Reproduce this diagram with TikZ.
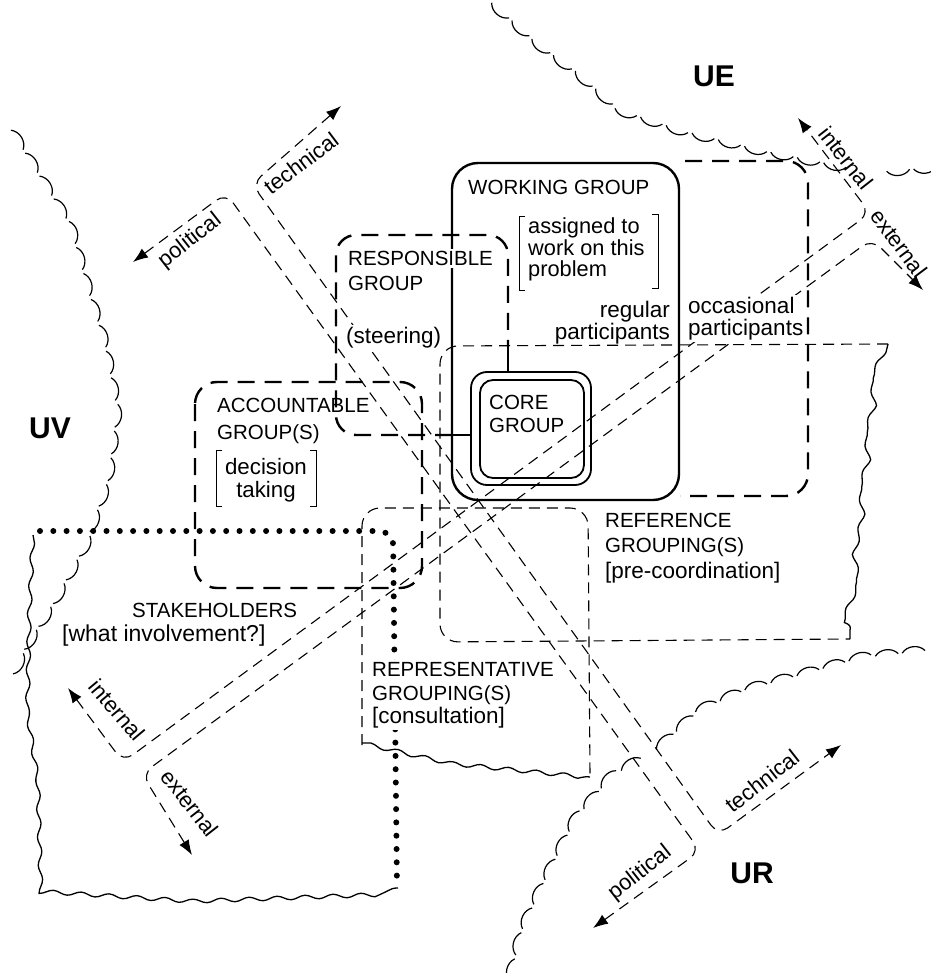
\documentclass[tikz,border=0pt]{standalone}
\usepackage{fontspec}
\setmainfont{Liberation Sans}
\usetikzlibrary{arrows.meta, decorations.pathmorphing, decorations.markings}

\begin{document}
\begin{tikzpicture}[
  x=1pt, y=-1pt,
  font=\fontsize{20.5}{24}\selectfont,
  txt/.style={anchor=north west, align=left, inner sep=2pt},
  blank/.style={txt, fill=white},
  lower/.style={font=\fontsize{22.5}{22}\selectfont},
  big/.style={font=\fontsize{30}{34}\selectfont\bfseries, inner sep=0pt},
  tag/.style={inner sep=1pt, font=\fontsize{22}{24}\selectfont},
  solidbox/.style={draw, line width=2.4pt, rounded corners=26pt},
  heavydash/.style={draw, line width=2.4pt, dash pattern=on 17pt off 10pt, rounded corners=22pt},
  lightdash/.style={draw, line width=1.1pt, dash pattern=on 11pt off 7pt, rounded corners=18pt},
  band/.style={draw, line width=1.1pt, dash pattern=on 11pt off 7pt, rounded corners=12pt, >={Latex[length=15pt,width=11pt]}, <->},
  dotline/.style={draw, line width=6pt, line cap=round, dash pattern=on 0pt off 13.3pt, rounded corners=14pt},
  wavy/.style={draw, line width=1.3pt, decorate, decoration={snake, amplitude=2pt, segment length=28pt}},
  scallop/.style={decorate, decoration={markings, mark=between positions 0 and 1 step 27pt with {\draw[line width=1.2pt] (-11.5pt,0pt) .. controls (-6pt,7pt) and (6pt,7pt) .. (11.5pt,0pt);}}},
  bracket/.style={draw, line width=0.9pt}
]
\useasboundingbox (0,0) rectangle (930,973);

\path[scallop] (17,140) -- (45,185) -- (70,225) -- (88,290) -- (105,345) -- (117,410) -- (108,480) -- (85,545) -- (55,600) -- (30,640) -- (10,680);
\path[scallop] (835,165) -- (760,150) -- (680,130) -- (620,110) -- (580,75) -- (540,45) -- (500,10);
\path[scallop] (925,168) -- (878,172);
\path[scallop] (512,970) -- (522,930) -- (545,880) -- (575,820) -- (610,778) -- (635,762);
\path[scallop] (665,742) -- (700,710) -- (745,690) -- (800,675) -- (860,658) -- (930,650);

\draw[wavy] (33,535) -- (30,600) -- (28,700) -- (40,780) -- (43,885) -- (200,895) -- (398,888);
\draw[lightdash] (888,344) -- (440,346) -- (440,642) -- (850,639);
\draw[wavy] (888,344) -- (872,376) -- (875,402) -- (868,422) -- (872,455) -- (862,485) -- (865,512) -- (858,545) -- (863,578) -- (850,610) -- (850,639);
\draw[lightdash] (362,745) -- (362,508) -- (588,508) -- (590,776);
\draw[wavy] (362,743) -- (400,752) -- (450,763) -- (540,772) -- (590,777);

\draw[heavydash] (195,382) rectangle (422,588);
\draw[heavydash, rounded corners=20pt] (452,435) -- (336,435) -- (336,235) -- (508,235) -- (508,347);
\draw[line width=2.4pt] (508,347) -- (508,372) (452,435) -- (471,435);
\draw[heavydash] (685,161) -- (808,161) -- (808,496) -- (680,496);
\draw[solidbox] (452,163) rectangle (679,500);
\draw[line width=1.8pt, rounded corners=16pt] (471,372) rectangle (591,485);
\draw[line width=1.8pt, rounded corners=13pt] (480,380) rectangle (584,478);

\draw[band] (133,262) -- (226,193) -- (700,851) -- (593,928);
\draw[band] (341,106) -- (252,184) -- (718,835) -- (841,745);
\draw[band] (68,688) -- (123,762) -- (870,213) -- (798,118);
\draw[band] (192,855) -- (142,774) -- (872,239) -- (923,290);

\draw[dotline] (40,531) -- (393,531) -- (397,888);

\node[big] (uv) at (50,428) {UV};
\node[big] (ue) at (714,76) {UE};
\node[big] (ur) at (752,873) {UR};

\node[txt] (wg) at (466,178) {WORKING GROUP};
\node[txt, font=\fontsize{21.8}{21.5}\selectfont] (assign) at (526,216) {assigned to\\work on this\\problem};
\draw[bracket] (525,216) -- (519,216) -- (519,290) -- (525,290);
\draw[bracket] (652,214) -- (658,214) -- (658,288) -- (652,288);
\node[blank] (rg) at (346,249) {RESPONSIBLE};
\node[txt] (rggroup) at (346,274) {GROUP};
\node[blank, lower] (steer) at (344,325) {(steering)};
\node[txt, lower, anchor=north east, align=right] (reg) at (672,299) {regular\\participants};
\node[blank, lower] (occ) at (686,295) {occasional\\participants};
\node[txt, font=\fontsize{20.5}{23}\selectfont] (core) at (487,393) {CORE\\GROUP};
\node[txt, font=\fontsize{20.5}{27}\selectfont] (acc) at (215,396) {ACCOUNTABLE\\GROUP(S)};
\node[align=center, inner sep=1pt, lower, font=\fontsize{22.3}{23}\selectfont] (dec) at (266,480) {decision\\taking};
\draw[bracket] (222,450) -- (216,450) -- (216,506) -- (222,506);
\draw[bracket] (310,450) -- (316,450) -- (316,506) -- (310,506);
\node[txt, font=\fontsize{20.5}{25}\selectfont] (ref) at (603,511) {REFERENCE\\GROUPING(S)};
\node[txt, lower] (refnote) at (603,560) {[pre-coordination]};
\node[txt] (stake) at (130,601) {STAKEHOLDERS};
\node[txt, lower, font=\fontsize{23}{24}\selectfont] (stakeq) at (60,623) {[what involvement?]};
\node[blank] (rep) at (370,660) {REPRESENTATIVE\\GROUPING(S)};
\node[blank, lower] (repnote) at (370,705) {[consultation]};

\node[tag, rotate=38] (poltop) at (190,241) {political};
\node[tag, rotate=37] (techtop) at (301,163) {technical};
\node[tag, rotate=-50] (intsw) at (117,710) {internal};
\node[tag, rotate=-52] (extsw) at (190,803) {external};
\node[tag, rotate=-52] (intne) at (846,158) {internal};
\node[tag, rotate=-53] (extne) at (899,243) {external};
\node[tag, rotate=38] (techbot) at (762,781) {technical};
\node[tag, rotate=38] (polbot) at (640,873) {political};
\end{tikzpicture}
\end{document}
